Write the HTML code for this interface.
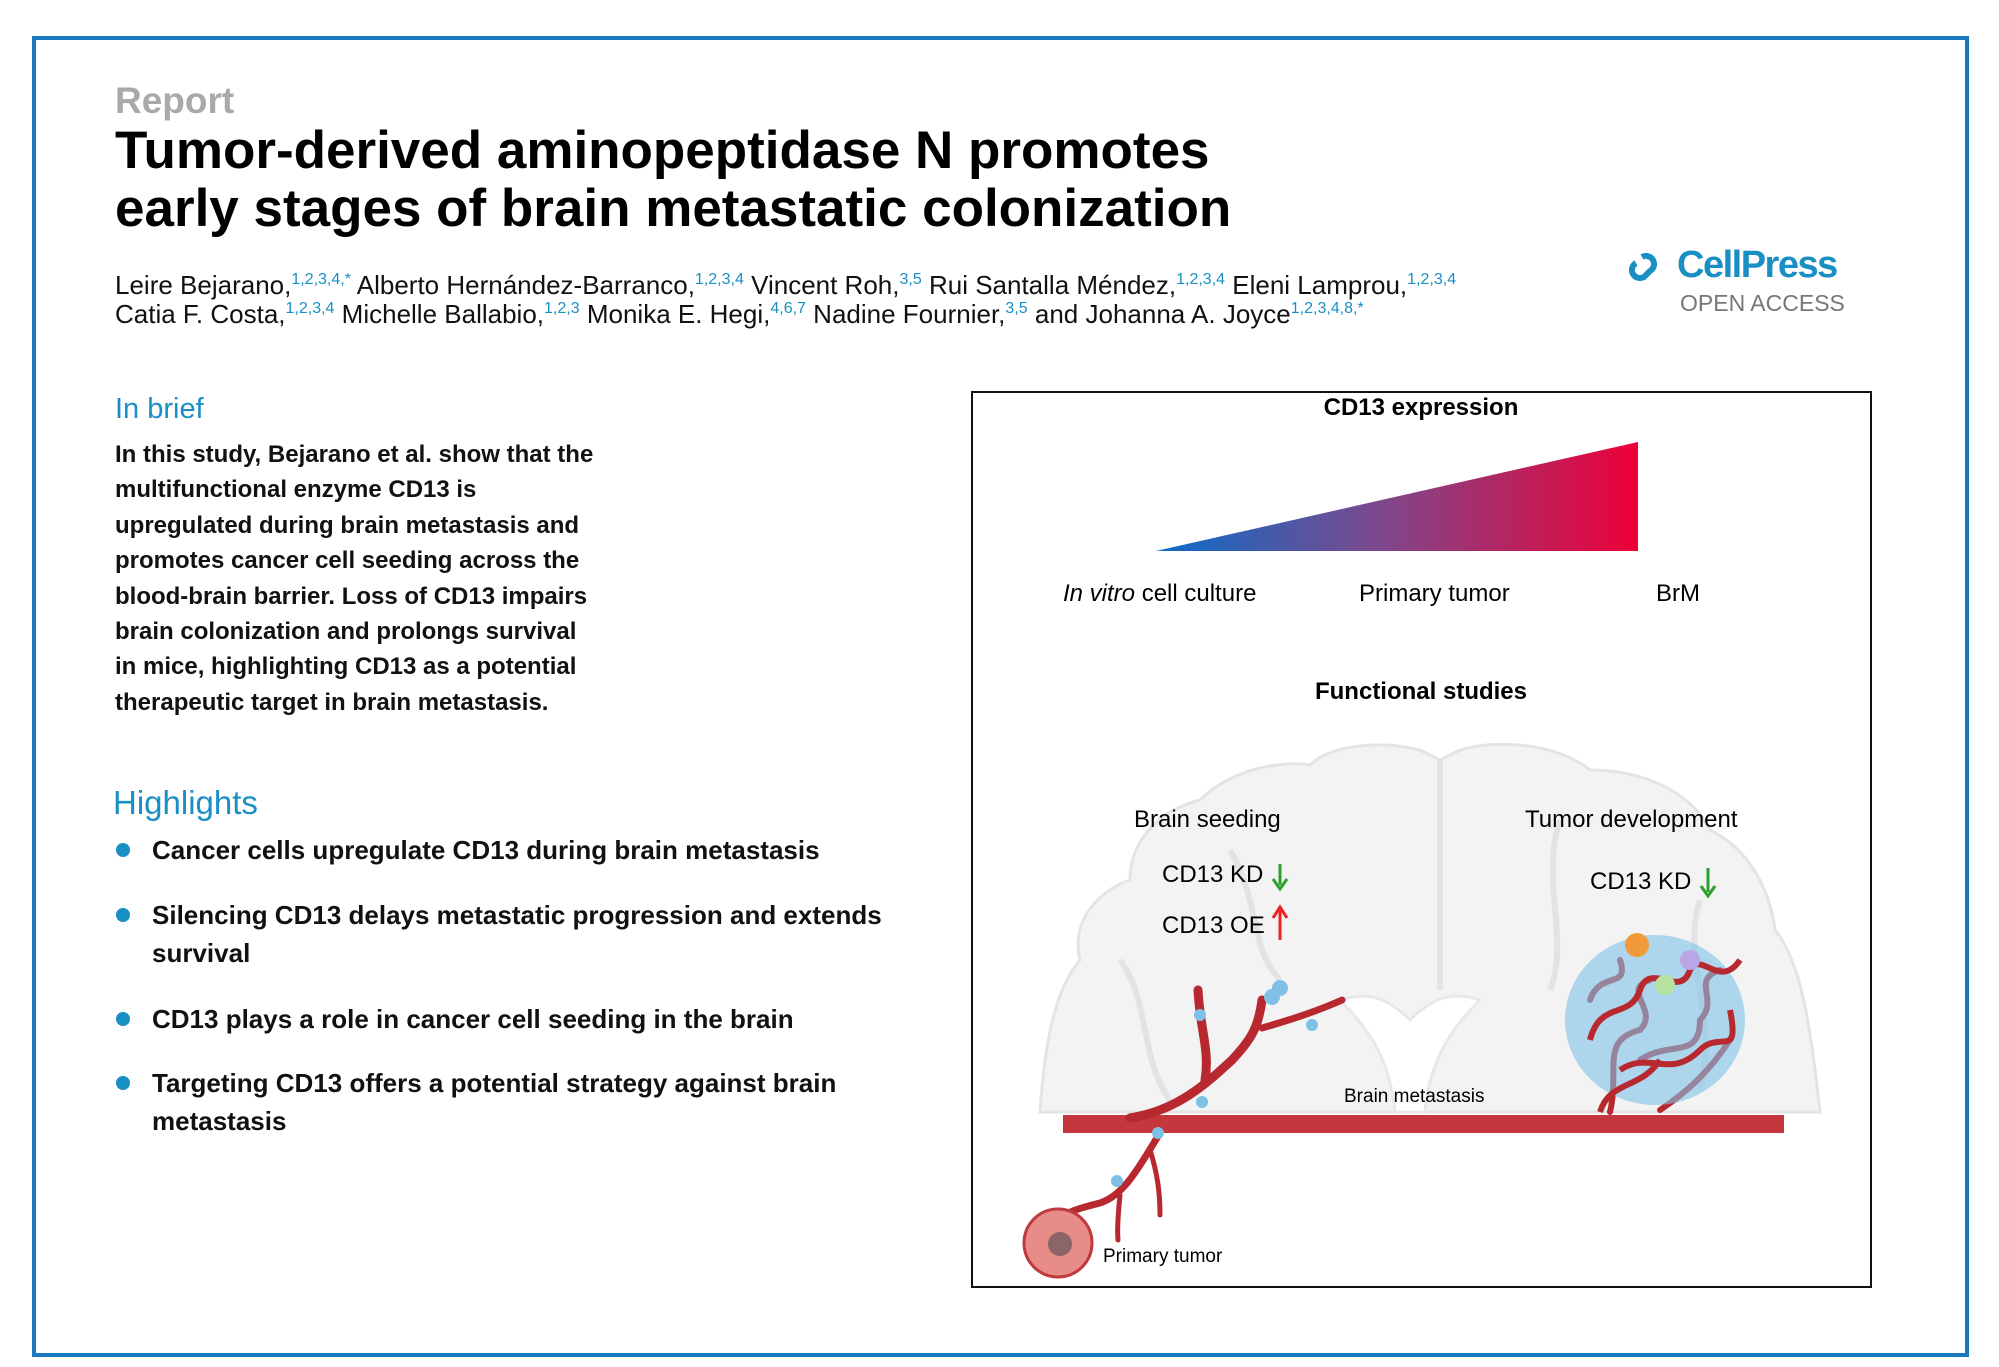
<!DOCTYPE html>
<html><head><meta charset="utf-8"><style>
body{margin:0;width:1999px;height:1367px;background:#fff;position:relative;font-family:"Liberation Sans",Arial,sans-serif;overflow:hidden}
.a{position:absolute;white-space:nowrap}
.border{position:absolute;left:32px;top:36px;width:1937px;height:1321px;border:4px solid #1a78bf;box-sizing:border-box}
sup{color:#1a8fc4;font-size:16px;vertical-align:10px;font-weight:normal;line-height:0}
.hl{position:absolute;left:152px;font-size:26px;font-weight:bold;color:#111;line-height:38px}
.dot{position:absolute;left:116px;width:14px;height:14px;border-radius:50%;background:#1a8fc4}
</style></head><body>
<div class="border"></div>
<div class="a" style="left:115px;top:80px;font-size:37px;font-weight:bold;color:#a9a9a9">Report</div>
<div class="a" style="left:115px;top:122px;font-size:53px;font-weight:bold;color:#000;line-height:58px">Tumor-derived aminopeptidase N promotes<br>early stages of brain metastatic colonization</div>
<div class="a" style="left:115px;top:271px;font-size:26px;color:#111;line-height:29px">Leire Bejarano,<sup>1,2,3,4,*</sup> Alberto Hernández-Barranco,<sup>1,2,3,4</sup> Vincent Roh,<sup>3,5</sup> Rui Santalla Méndez,<sup>1,2,3,4</sup> Eleni Lamprou,<sup>1,2,3,4</sup><br>Catia F. Costa,<sup>1,2,3,4</sup> Michelle Ballabio,<sup>1,2,3</sup> Monika E. Hegi,<sup>4,6,7</sup> Nadine Fournier,<sup>3,5</sup> and Johanna A. Joyce<sup>1,2,3,4,8,*</sup></div>
<svg class="a" style="left:1628px;top:247px" width="40" height="40" viewBox="0 0 40 40"><path d="M14 10a8 8 0 1 1 8 14l-6 6a8 8 0 1 1-8-14" fill="none" stroke="#1a8fc4" stroke-width="6"/></svg>
<div class="a" style="left:1677px;top:244px;font-size:38px;font-weight:bold;color:#1a8fc4;letter-spacing:-1.5px">CellPress</div>
<div class="a" style="left:1680px;top:290px;font-size:23px;color:#777">OPEN ACCESS</div>

<div class="a" style="left:115px;top:393px;font-size:29px;color:#1a8fc4">In brief</div>
<div class="a" style="left:115px;top:437px;font-size:24px;font-weight:bold;color:#111;line-height:35.4px">In this study, Bejarano et al. show that the<br>multifunctional enzyme CD13 is<br>upregulated during brain metastasis and<br>promotes cancer cell seeding across the<br>blood-brain barrier. Loss of CD13 impairs<br>brain colonization and prolongs survival<br>in mice, highlighting CD13 as a potential<br>therapeutic target in brain metastasis.</div>

<div class="a" style="left:113px;top:784px;font-size:33px;color:#1a8fc4">Highlights</div>
<div class="dot" style="top:843px"></div><div class="hl" style="top:831px">Cancer cells upregulate CD13 during brain metastasis</div>
<div class="dot" style="top:908px"></div><div class="hl" style="top:896px">Silencing CD13 delays metastatic progression and extends<br>survival</div>
<div class="dot" style="top:1012px"></div><div class="hl" style="top:1000px">CD13 plays a role in cancer cell seeding in the brain</div>
<div class="dot" style="top:1076px"></div><div class="hl" style="top:1064px">Targeting CD13 offers a potential strategy against brain<br>metastasis</div>

<div class="a" style="left:971px;top:391px;width:901px;height:897px;border:2px solid #111;box-sizing:border-box"></div>
<svg class="a" style="left:0;top:0" width="1999" height="1367">
<defs><linearGradient id="g" x1="0" x2="1"><stop offset="0" stop-color="#0a6cc9"/><stop offset="0.45" stop-color="#7a4a8e"/><stop offset="1" stop-color="#ee0037"/></linearGradient></defs>
<polygon points="1156,551 1638,551 1638,442" fill="url(#g)"/>
<path d="M1040,1112 C1045,1040 1055,990 1080,960 C1070,920 1100,890 1130,880 C1130,840 1160,810 1200,800 C1230,770 1280,760 1310,765 C1330,745 1380,740 1420,750 L1440,760 L1460,750 C1500,738 1560,745 1590,770 C1640,770 1690,790 1710,830 C1750,850 1770,890 1775,930 C1800,960 1810,1020 1820,1112 Z" fill="#f3f3f3" stroke="#e4e4e4" stroke-width="3"/>
<path d="M1340,1000 C1370,1030 1390,1060 1395,1112 L1425,1112 C1430,1060 1450,1030 1480,1000 C1450,990 1430,1000 1410,1020 C1390,1000 1370,990 1340,1000Z" fill="#fff" stroke="#e8e8e8" stroke-width="3"/>
<path d="M1440,760 L1440,990 M1230,850 C1260,900 1250,950 1280,980 M1560,820 C1540,880 1570,940 1550,990 M1120,960 C1150,1000 1140,1060 1170,1100 M1700,900 C1680,960 1720,1020 1700,1090" stroke="#e3e3e3" stroke-width="6" fill="none"/>
<rect x="1063" y="1115" width="721" height="18" fill="#c4373c"/>
<g stroke="#b8292f" stroke-width="9" fill="none" stroke-linecap="round">
<path d="M1130,1118 C1180,1110 1210,1080 1232,1060 C1250,1040 1258,1030 1262,1000"/>
<path d="M1205,1080 C1210,1050 1200,1030 1198,990"/>
<path d="M1262,1028 C1290,1020 1320,1010 1342,1000" stroke-width="7"/>
<path d="M1160,1133 C1140,1165 1125,1195 1100,1203 C1080,1208 1065,1212 1055,1222" stroke-width="7"/>
<path d="M1120,1195 C1118,1215 1117,1230 1118,1240" stroke-width="5"/>
<path d="M1150,1150 C1158,1175 1160,1195 1160,1215" stroke-width="5"/>
<path d="M1610,1112 C1620,1070 1600,1040 1640,1030 C1660,1010 1620,990 1650,980 M1640,1060 C1670,1040 1700,1060 1700,1020 C1720,1000 1690,980 1720,970 M1590,1000 C1600,970 1630,990 1620,960 M1660,1110 C1690,1090 1710,1070 1730,1040" stroke-width="6"/>
</g>
<ellipse cx="1655" cy="1020" rx="90" ry="85" fill="#7fc1e6" opacity="0.6"/>
<g stroke="#b8292f" stroke-width="6" fill="none"><path d="M1590,1040 C1600,1000 1630,1020 1640,990 C1650,960 1680,1000 1690,970 C1700,950 1720,990 1740,960 M1620,1070 C1650,1050 1670,1080 1700,1050 C1720,1030 1740,1060 1730,1010 M1600,1112 C1610,1080 1640,1090 1660,1060"/></g>
<circle cx="1637" cy="945" r="12" fill="#f09a3a"/><circle cx="1665" cy="985" r="10" fill="#b7e3a0"/><circle cx="1690" cy="960" r="10" fill="#b9a7e6"/>
<g fill="#7fc1e6"><circle cx="1200" cy="1015" r="6"/><circle cx="1202" cy="1102" r="6"/><circle cx="1158" cy="1133" r="6"/><circle cx="1117" cy="1181" r="6"/><circle cx="1312" cy="1025" r="6"/><circle cx="1272" cy="997" r="8"/><circle cx="1280" cy="988" r="8"/></g>
<circle cx="1058" cy="1243" r="34" fill="#e88c88" stroke="#c0393d" stroke-width="3"/>
<circle cx="1060" cy="1244" r="12" fill="#8a6666"/>
<path d="M1280,864 L1280,885 M1273,879 L1280,889 L1287,879" stroke="#2fa02f" stroke-width="3" fill="none"/>
<path d="M1280,940 L1280,910 M1273,918 L1280,907 L1287,918" stroke="#e22" stroke-width="3" fill="none"/>
<path d="M1708,868 L1708,892 M1701,886 L1708,896 L1715,886" stroke="#2fa02f" stroke-width="3" fill="none"/>
</svg>
<div class="a" style="left:1321px;top:394px;width:200px;text-align:center;font-size:24px;font-weight:bold">CD13 expression</div>
<div class="a" style="left:1063px;top:580px;font-size:24px"><i>In vitro</i> cell culture</div>
<div class="a" style="left:1359px;top:580px;font-size:24px">Primary tumor</div>
<div class="a" style="left:1656px;top:580px;font-size:24px">BrM</div>
<div class="a" style="left:1311px;top:678px;width:220px;text-align:center;font-size:24px;font-weight:bold">Functional studies</div>
<div class="a" style="left:1134px;top:806px;font-size:24px">Brain seeding</div>
<div class="a" style="left:1525px;top:806px;font-size:24px">Tumor development</div>
<div class="a" style="left:1162px;top:861px;font-size:24px">CD13 KD</div>
<div class="a" style="left:1162px;top:912px;font-size:24px">CD13 OE</div>
<div class="a" style="left:1590px;top:868px;font-size:24px">CD13 KD</div>
<div class="a" style="left:1344px;top:1086px;font-size:19px">Brain metastasis</div>
<div class="a" style="left:1103px;top:1246px;font-size:19px">Primary tumor</div>
</body></html>
